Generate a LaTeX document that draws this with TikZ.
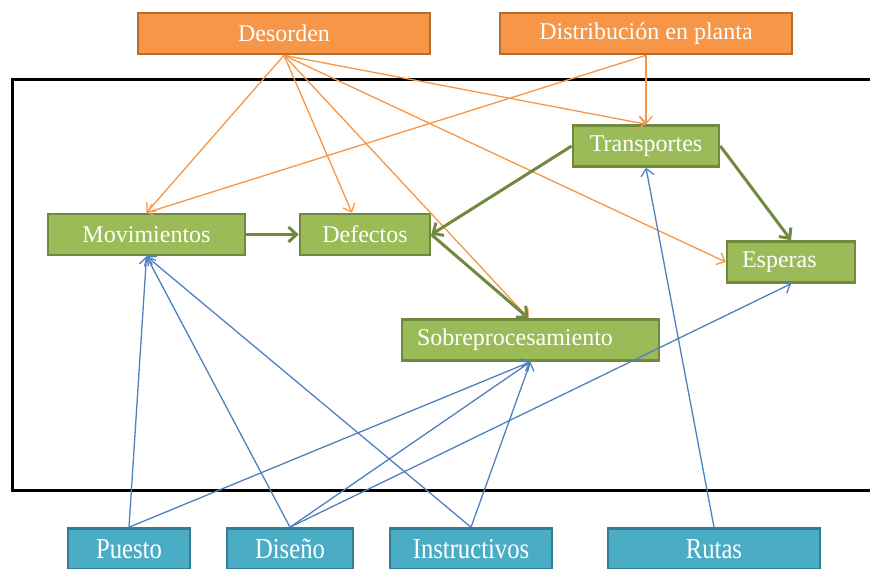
\documentclass[tikz,border=0pt]{standalone}
\usepackage{fontspec}
\setmainfont{Liberation Serif}
\newfontfamily\estrecha[FakeStretch=0.85]{Liberation Serif}
\usepackage{tikz}
\usetikzlibrary{arrows.meta}

\definecolor{naranja}{HTML}{F79646}
\definecolor{naranjaborde}{HTML}{B66D31}
\definecolor{verde}{HTML}{9BBB59}
\definecolor{verdeborde}{HTML}{71893F}
\definecolor{azul}{HTML}{4BACC6}
\definecolor{azulborde}{HTML}{357D91}
\definecolor{linea}{HTML}{4F81BD}

\begin{document}
\begin{tikzpicture}[x=1pt, y=-1pt,
	caja/.style = {draw, rectangle, line width=2.6pt, text=white, inner xsep=15pt, minimum height=41pt, font=\fontsize{24}{26}\selectfont},
	externo/.style = {caja, fill=naranja, draw=naranjaborde},
	interno/.style = {caja, fill=verde, draw=verdeborde},
	fuente/.style = {caja, fill=azul, draw=azulborde, font=\estrecha\fontsize{29}{30}\selectfont},
	causa/.style = {draw=naranja, line width=1.3pt, -{Straight Barb[length=7pt,width=13pt]}},
	liga/.style = {draw=verdeborde, line width=3pt, -{Straight Barb[length=8pt,width=15pt]}},
	origen/.style = {draw=linea, line width=1.3pt, -{Straight Barb[length=7pt,width=13pt]}}]
				\useasboundingbox (0,0) rectangle (870,569);
				\draw[line width=3pt] (12,80) rectangle (885,490);

				\node[externo, minimum width=292pt] (desorden) at (284,33.5) {Desorden};
				\node[externo, minimum width=292pt] (distrib) at (646,33.5) {Distribución en planta};

				\node[interno, minimum width=197pt] (movim) at (146.5,234.5) {Movimientos};
				\node[interno, minimum width=130pt] (defectos) at (365,234.5) {Defectos};
				\node[interno, minimum width=146pt] (transp) at (646,146) {Transportes};
				\node[interno, text width=98pt, align=left] (esperas) at (791,262) {Esperas};
				\node[interno, text width=227pt, align=left] (sobrep) at (530.5,340) {Sobreprocesamiento};

				\node[fuente, minimum width=122pt] (puesto) at (129,549) {Puesto};
				\node[fuente, minimum width=126pt] (diseno) at (290,549) {Diseño};
				\node[fuente, minimum width=162pt] (instr) at (471,549) {Instructivos};
				\node[fuente, minimum width=212pt] (rutas) at (714,549) {Rutas};

				% causas externas
				\draw[causa] (desorden.south) -- (movim.north);
				\draw[causa] (desorden.south) -- ([xshift=-13pt]defectos.north);
				\draw[causa] (desorden.south) -- ([xshift=-2pt]sobrep.north);
				\draw[causa] (desorden.south) -- (transp.north);
				\draw[causa] (desorden.south) -- (esperas.west);
				\draw[causa] (distrib.south) -- (transp.north);
				\draw[causa] (distrib.south) -- (movim.north);

				% desperdicios
				\draw[liga] (movim) -- (defectos);
				\draw[liga] (transp.west) -- (defectos.east);
				\draw[liga] (defectos.east) -- ([xshift=-2pt]sobrep.north);
				\draw[liga] (transp.east) -- (esperas.north);

				% origenes
				\draw[origen] (puesto.north) -- (movim.south);
				\draw[origen] (puesto.north) -- (sobrep.south);
				\draw[origen] (diseno.north) -- (movim.south);
				\draw[origen] (diseno.north) -- (sobrep.south);
				\draw[origen] (diseno.north) -- (esperas.south);
				\draw[origen] (instr.north) -- (movim.south);
				\draw[origen] (instr.north) -- (sobrep.south);
				\draw[origen] (rutas.north) -- (transp.south);
			\end{tikzpicture}
\end{document}
